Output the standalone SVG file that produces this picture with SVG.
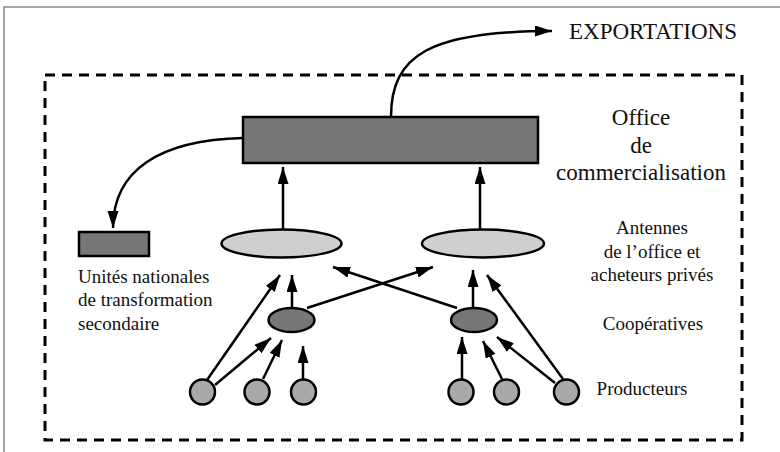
<svg xmlns="http://www.w3.org/2000/svg" width="780" height="452" viewBox="0 0 780 452">
<defs>
<marker id="ah" markerUnits="userSpaceOnUse" markerWidth="18" markerHeight="12" refX="17" refY="5.5" orient="auto" viewBox="0 0 18 12">
<path d="M0,0 L17,5.5 L0,11 z" fill="#000"/>
</marker>
<style>
.big{font-size:23px;}
.lab{font-size:19px;}
.c{stroke:#000;stroke-width:2.5;fill:none;marker-end:url(#ah);}
.nd{stroke:#000;stroke-width:2.5;}
.dark{fill:#767676;}
.light{fill:#cfcfcf;}
.prod{fill:#a9a9a9;}
</style>
</defs>
<rect width="780" height="452" fill="#fff"/>
<rect x="4" y="7" width="800" height="500" fill="none" stroke="#888" stroke-width="1.5"/>
<rect x="45" y="75" width="697" height="365" fill="none" stroke="#000" stroke-width="3" stroke-dasharray="10,7"/>

<g id="office"><rect class="nd dark" x="243" y="117" width="295" height="46"/></g>
<g id="unites"><rect class="nd dark" x="79" y="232" width="70" height="24"/></g>
<g id="antenne-g"><ellipse class="nd light" cx="281.5" cy="243.5" rx="60" ry="14"/></g>
<g id="antenne-d"><ellipse class="nd light" cx="483" cy="243.5" rx="61" ry="14"/></g>
<g id="coop-g"><ellipse class="nd dark" cx="291.5" cy="320" rx="23" ry="12"/></g>
<g id="coop-d"><ellipse class="nd dark" cx="474" cy="320" rx="23" ry="12"/></g>
<g id="prod-g1"><circle class="nd prod" cx="202.5" cy="392" r="12.5"/></g>
<g id="prod-g2"><circle class="nd prod" cx="257" cy="392" r="12.5"/></g>
<g id="prod-g3"><circle class="nd prod" cx="303.5" cy="392" r="12.5"/></g>
<g id="prod-d1"><circle class="nd prod" cx="461" cy="392" r="12.5"/></g>
<g id="prod-d2"><circle class="nd prod" cx="506.5" cy="392" r="12.5"/></g>
<g id="prod-d3"><circle class="nd prod" cx="566.5" cy="392" r="12.5"/></g>

<g id="connectors">
<path class="c" d="M391,117 C391,55 430,31 552,31"/>
<path class="c" d="M243,138 C160,140 113,170 113,228"/>
<path class="c" d="M283,229 L283,167"/>
<path class="c" d="M480,229 L480,167"/>
<path class="c" d="M292,308 L292,275"/>
<path class="c" d="M473,308 L473,270"/>
<path class="c" d="M307,308 L433,267"/>
<path class="c" d="M457,308 L333,267"/>
<path class="c" d="M207,380 L280,275"/>
<path class="c" d="M215,385 L271,338"/>
<path class="c" d="M263,379 L282,340"/>
<path class="c" d="M303,379 L303,346"/>
<path class="c" d="M462,379 L462,337"/>
<path class="c" d="M502,379 L483,341"/>
<path class="c" d="M555,383 L497,337"/>
<path class="c" d="M563,379 L487,275"/>
</g>

<g id="labels" font-family="'Liberation Serif', 'Times New Roman', 'DejaVu Serif', serif" fill="#111">
<text class="big" x="569" y="39">EXPORTATIONS</text>
<text class="big" x="641" y="125" text-anchor="middle">Office</text>
<text class="big" x="641" y="153" text-anchor="middle">de</text>
<text class="big" x="641" y="180" text-anchor="middle">commercialisation</text>
<text class="lab" x="78" y="283">Unités nationales</text>
<text class="lab" x="78" y="306">de transformation</text>
<text class="lab" x="78" y="330">secondaire</text>
<text class="lab" x="652" y="234" text-anchor="middle">Antennes</text>
<text class="lab" x="652" y="258" text-anchor="middle">de l’office et</text>
<text class="lab" x="652" y="281" text-anchor="middle">acheteurs privés</text>
<text class="lab" x="653" y="330" text-anchor="middle">Coopératives</text>
<text class="lab" x="642" y="395" text-anchor="middle">Producteurs</text>
</g>
</svg>
